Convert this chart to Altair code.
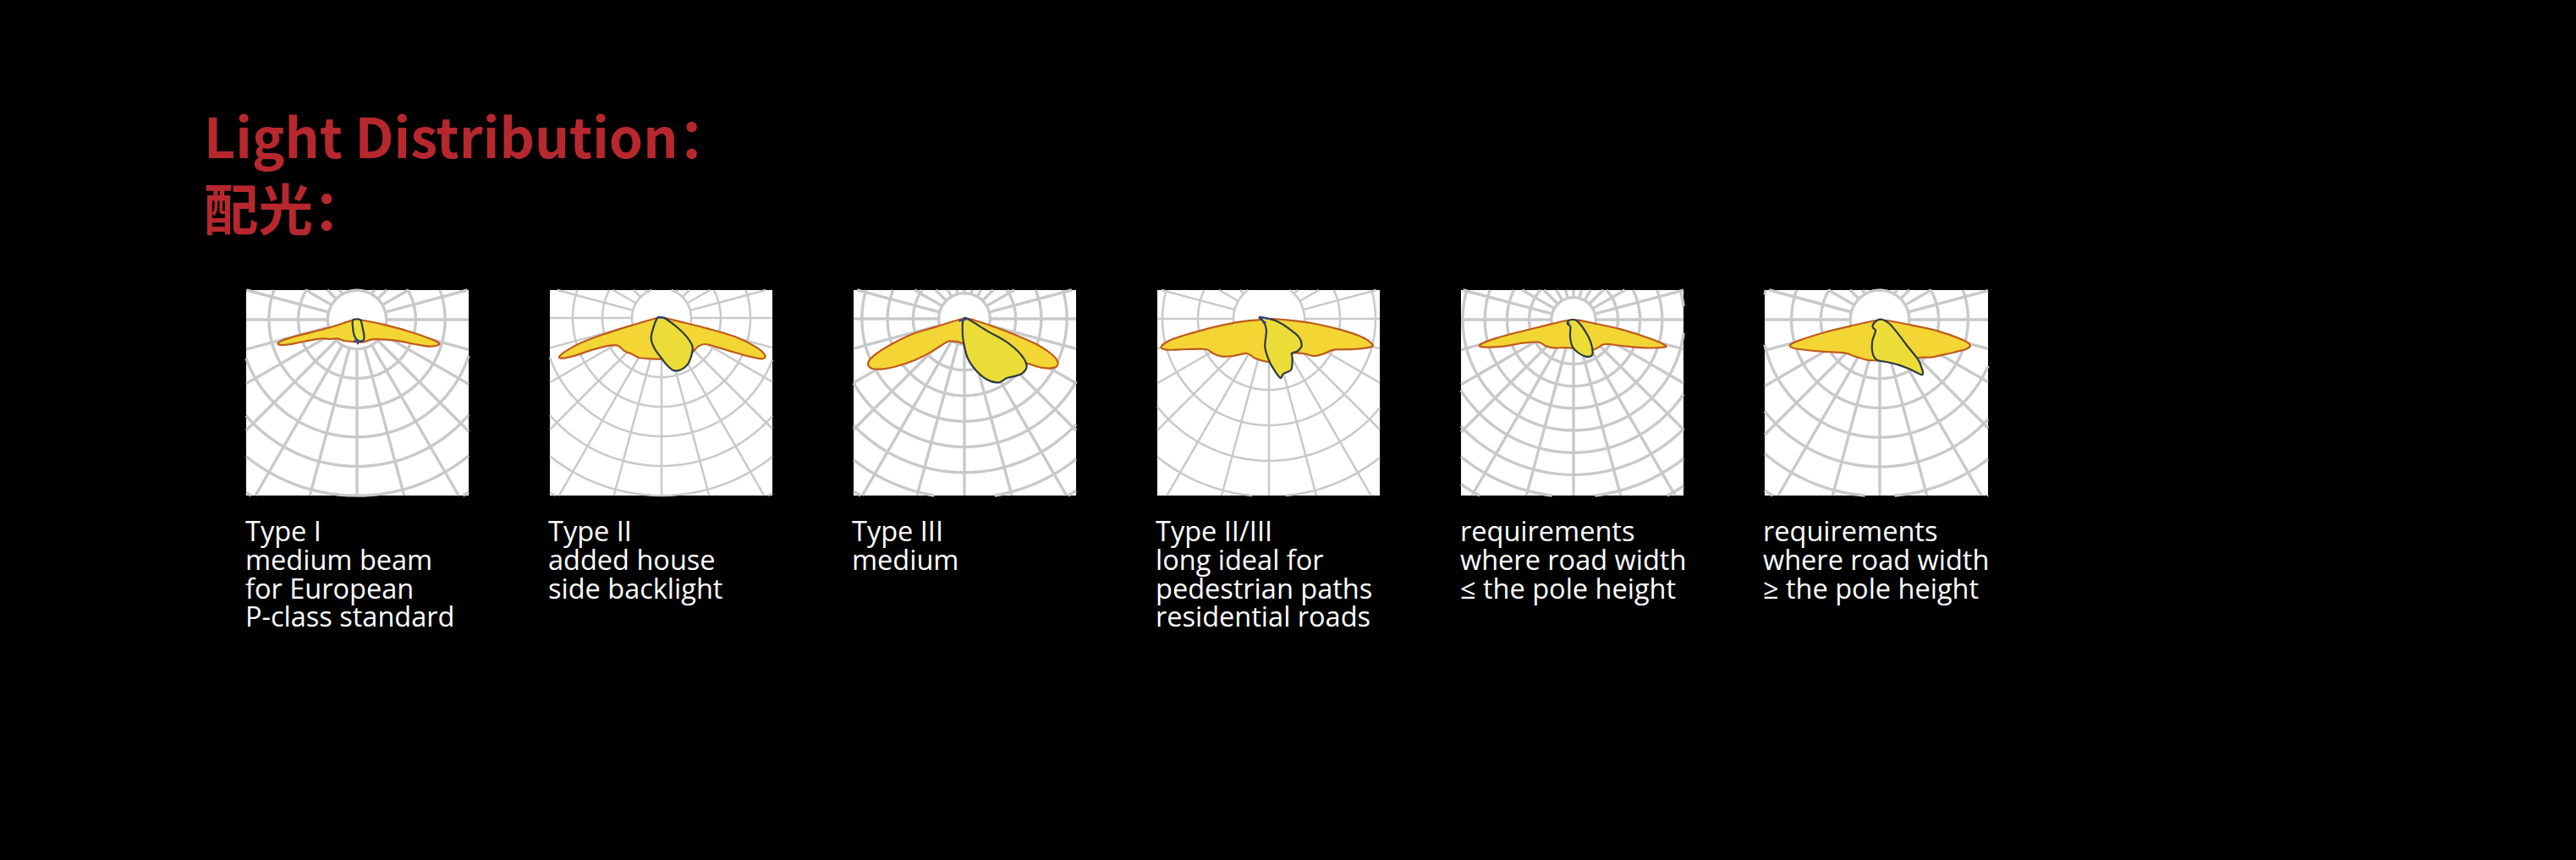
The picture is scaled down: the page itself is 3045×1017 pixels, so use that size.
import math
import altair as alt
import pandas as pd

alt.data_transformers.disable_max_rows()

# panel layout: left, right, top, bottom, centre x, centre y, ring spacing, grid width
panel_left = [291, 650, 1009, 1368, 1727, 2086]
panel_right = [554, 913, 1272, 1631, 1990, 2350]
panel_top = [343, 343, 343, 343, 343, 343]
panel_bottom = [586, 586, 586, 586, 586, 586]
centre_x = [422, 782, 1140, 1500, 1860, 2222]
centre_y = [378, 376, 377, 377, 378, 378]
ring_step = [34.7, 35.0, 30.3, 42.0, 26.2, 34.8]
grid_width = [3.4, 2.5, 3.4, 2.5, 3.4, 3.4]
spoke_angles = list(range(0, 360, 15))

# outlines: offsets from the panel centre, in thirds of a pixel
c0_outlines = [
    [(-15,2),(-105,30),(-195,53),(-255,70),(-277,80),(-279,87),(-260,90),(-215,83),(-165,73),(-125,67),(-95,69),(-70,67),(-45,75),(-15,78),(0,80),(25,79),(55,70),(105,71),(155,77),(205,87),(255,95),(287,91),(290,83),(265,70),(195,45),(105,20),(25,3),(0,1)],
    [(-15,0),(-105,26),(-205,58),(-285,88),(-340,118),(-363,138),(-350,143),(-305,133),(-245,113),(-185,98),(-155,98),(-130,118),(-105,128),(-80,141),(-35,145),(5,145),(35,136),(75,135),(105,125),(130,101),(155,93),(195,103),(245,118),(305,135),(355,145),(367,133),(335,103),(265,68),(165,38),(65,13),(10,0)],
    [(-19,3),(-99,28),(-189,56),(-269,96),(-324,133),(-342,158),(-329,176),(-289,178),(-239,168),(-179,148),(-119,118),(-64,83),(-44,80),(-9,86),(60,120),(150,150),(221,158),(271,173),(321,173),(331,153),(306,123),(251,88),(171,53),(91,23),(16,0)],
    [(-24,3),(-99,10),(-189,28),(-279,52),(-344,73),(-382,98),(-364,110),(-289,108),(-224,108),(-199,122),(-169,133),(-129,132),(-79,123),(-49,140),(-9,152),(21,150),(51,132),(81,122),(121,123),(161,132),(191,125),(231,110),(301,108),(361,100),(366,90),(331,65),(251,38),(151,15),(71,5),(11,0)],
    [(-24,3),(-109,23),(-199,45),(-279,67),(-329,87),(-324,97),(-249,95),(-179,83),(-124,80),(-99,93),(-74,100),(-9,100),(21,115),(61,110),(86,100),(111,87),(171,93),(251,100),(321,98),(323,90),(271,67),(171,35),(81,15),(16,2)],
    [(-15,3),(-105,23),(-195,45),(-275,70),(-315,87),(-315,97),(-285,105),(-205,113),(-125,118),(-90,130),(-45,143),(-10,145),(45,147),(135,135),(185,133),(245,120),(305,105),(320,90),(290,70),(205,40),(115,20),(25,3)],
]
c90_outlines = [
    [(-15,2),(0,-2),(13,2),(20,30),(25,55),(23,73),(5,77),(-10,55),(-15,25)],
    [(-15,0),(0,-2),(15,3),(55,33),(90,68),(110,103),(103,143),(90,168),(65,185),(40,185),(15,163),(0,143),(-25,108),(-37,73),(-30,38)],
    [(-4,3),(11,0),(81,43),(151,83),(201,128),(221,168),(206,193),(181,203),(151,210),(121,226),(81,216),(41,183),(11,138),(-4,78),(-7,38)],
    [(-34,-5),(-19,10),(-9,40),(-14,100),(1,150),(21,185),(41,210),(51,195),(79,180),(83,140),(81,122),(101,115),(116,95),(106,65),(71,35),(31,10),(1,0)],
    [(-19,5),(-4,0),(13,5),(41,40),(61,80),(68,117),(61,130),(41,130),(16,117),(-4,95),(-12,60),(-11,25),(-21,15)],
    [(-25,20),(-10,3),(10,0),(35,15),(65,50),(95,90),(135,140),(150,175),(152,195),(135,190),(105,175),(65,160),(25,150),(-10,143),(-25,120),(-27,80),(-15,40),(-23,30)],
]
# short blue marks near the lamp point: panel, x1, y1, x2, y2 in the same offsets
blue_panel = [0, 0, 1, 2, 3, 3, 4]
blue_x1 = [3, -12, -12, -20, -34, -24, -22]
blue_y1 = [70, 76, -1, 8, -5, 12, 8]
blue_x2 = [3, 18, 12, 12, 3, -10, -14]
blue_y2 = [88, 76, -1, 0, 0, 12, 16]

title_lines = ["Light Distribution：", "配光："]
title_y = [187, 272]
captions = [
    ["Type I", "medium beam", "for European", "P-class standard"],
    ["Type II", "added house", "side backlight"],
    ["Type III", "medium"],
    ["Type II/III", "long ideal for", "pedestrian paths", "residential roads"],
    ["requirements", "where road width", "≤ the pole height"],
    ["requirements", "where road width", "≥ the pole height"],
]
caption_x = [290, 648, 1007, 1366, 1726, 2084]
caption_y = [640, 674, 708, 741]


def clip_segment(x0, y0, x1, y1, l, r, t, b):
    u0, u1 = 0.0, 1.0
    dx, dy = x1 - x0, y1 - y0
    for p, q in ((-dx, x0 - l), (dx, r - x0), (-dy, y0 - t), (dy, b - y0)):
        if p == 0:
            if q < 0:
                return None
        else:
            u = q / p
            if p < 0:
                if u > u1:
                    return None
                u0 = max(u0, u)
            else:
                if u < u0:
                    return None
                u1 = min(u1, u)
    return (x0 + u0 * dx, y0 + u0 * dy, x0 + u1 * dx, y0 + u1 * dy)


def add_clipped(rows, pts, i, gid):
    l, r, t, b = panel_left[i], panel_right[i], panel_top[i], panel_bottom[i]
    current = None
    order = 0
    for a, c in zip(pts, pts[1:]):
        s = clip_segment(a[0], a[1], c[0], c[1], l, r, t, b)
        if s is None:
            current = None
            continue
        if current is None:
            gid[0] += 1
            current = gid[0]
            rows.append(dict(g=current, o=order, x=s[0], y=s[1], w=grid_width[i]))
            order += 1
        rows.append(dict(g=current, o=order, x=s[2], y=s[3], w=grid_width[i]))
        order += 1


grid_rows = []
gid = [0]
for i in range(6):
    cx, cy, st = centre_x[i], centre_y[i], ring_step[i]
    rings = int(420 / st)
    for k in range(1, rings + 1):
        pts = [(cx + k * st * math.cos(math.radians(d)), cy + k * st * math.sin(math.radians(d)))
               for d in range(0, 363, 3)]
        add_clipped(grid_rows, pts, i, gid)
    for d in spoke_angles:
        ca, sa = math.cos(math.radians(d)), math.sin(math.radians(d))
        add_clipped(grid_rows, [(cx + st * ca, cy + st * sa), (cx + 500 * ca, cy + 500 * sa)], i, gid)
grid_df = pd.DataFrame(grid_rows)


def outline_frame(outlines):
    rows = []
    for i, pts in enumerate(outlines):
        for j, (dx, dy) in enumerate(pts):
            rows.append(dict(p=i, o=j, x=centre_x[i] + dx / 3, y=centre_y[i] + dy / 3))
    return pd.DataFrame(rows)


c0_df = outline_frame(c0_outlines)
c90_df = outline_frame(c90_outlines)
blue_df = pd.DataFrame([
    dict(x=centre_x[p] + a / 3, y=centre_y[p] + b / 3, x2=centre_x[p] + c / 3, y2=centre_y[p] + d / 3)
    for p, a, b, c, d in zip(blue_panel, blue_x1, blue_y1, blue_x2, blue_y2)
])
panels_df = pd.DataFrame(dict(x=panel_left, x2=panel_right, y=panel_top, y2=panel_bottom))
title_df = pd.DataFrame(dict(x=[241, 241], y=title_y, t=title_lines))
caption_df = pd.DataFrame([
    dict(x=caption_x[i], y=caption_y[j], t=line)
    for i, lines in enumerate(captions) for j, line in enumerate(lines)
])

X = alt.X("x:Q", axis=None, scale=alt.Scale(domain=[8, 3037], nice=False, zero=False))
Y = alt.Y("y:Q", axis=None, scale=alt.Scale(domain=[1003, 8], nice=False, zero=False))

panels = alt.Chart(panels_df).mark_rect(color="#ffffff").encode(x=X, x2="x2:Q", y=Y, y2="y2:Q")
grid = alt.Chart(grid_df).mark_line(color="#c9c9c9", clip=True).encode(
    x=X, y=Y, detail="g:N", order="o:Q", strokeWidth=alt.StrokeWidth("w:Q", scale=None))
c0 = alt.Chart(c0_df).mark_line(stroke="#bf5a1c", fill="#f3d534", filled=False, strokeWidth=2.2,
                                interpolate="cardinal-closed", tension=0.1).encode(
    x=X, y=Y, detail="p:N", order="o:Q")
c90 = alt.Chart(c90_df).mark_line(stroke="#2b3a45", fill="#ebdc38", filled=False, strokeWidth=2.2,
                                  interpolate="cardinal-closed", tension=0.1).encode(
    x=X, y=Y, detail="p:N", order="o:Q")
blue = alt.Chart(blue_df).mark_rule(color="#34479a", strokeWidth=2).encode(x=X, x2="x2:Q", y=Y, y2="y2:Q")
title = alt.Chart(title_df).mark_text(align="left", baseline="alphabetic", font="Noto Sans CJK SC",
                                      fontWeight="bold", fontSize=64.5, color="#b7282e").encode(x=X, y=Y, text="t:N")
caption = alt.Chart(caption_df).mark_text(align="left", baseline="alphabetic", font="Open Sans",
                                          fontSize=32.5, color="#ffffff").encode(x=X, y=Y, text="t:N")

chart = alt.layer(panels, grid, c0, c90, blue, title, caption).properties(
    width=3029,
    height=995,
    background="#000000",
    padding=0,
    autosize=alt.AutoSizeParams(type="none"),
).configure_view(stroke=None)

chart.save("out.html", embed_options={"renderer": "svg", "actions": False,
                                      "defaultStyle": "body{background:#000000}"})
